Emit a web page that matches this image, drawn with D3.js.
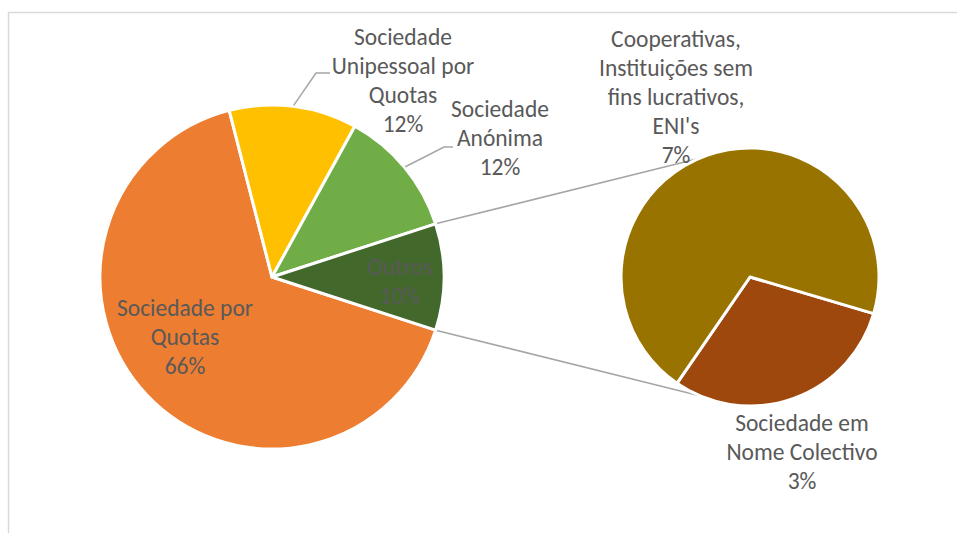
<!DOCTYPE html>
<html>
<head>
<meta charset="utf-8">
<script src="https://cdn.jsdelivr.net/npm/d3@7"></script>
<style>
  html, body { margin: 0; padding: 0; background: #ffffff; }
  svg { display: block; }
  text { font-family: Carlito, Lato, "Liberation Sans", sans-serif; fill: #595959; }
</style>
</head>
<body>
<svg id="chart" width="957" height="533"></svg>
<script>
// Main pie: company legal forms (percent of total)
const mainCategories = ["Sociedade por Quotas", "Sociedade Unipessoal por Quotas", "Sociedade Anónima", "Outros"];
const mainColors = ["#ED7D31", "#FFC000", "#70AD47", "#43682B"];
const mainValuesOwn = [66, 12, 12];

// Breakdown of "Outros" shown in the secondary pie
const subCategories = ["Sociedade em Nome Colectivo", "Cooperativas, Instituições sem fins lucrativos, ENI's"];
const subColors = ["#9E480E", "#997300"];
const subValues = [3, 7];

const mainValues = mainValuesOwn.concat([d3.sum(subValues)]);
const total = d3.sum(mainValues);

// Wrapped label text for each slice
const mainLabelLines = [
  ["Sociedade por", "Quotas"],
  ["Sociedade", "Unipessoal por", "Quotas"],
  ["Sociedade", "Anónima"],
  ["Outros"]
];
const subLabelLines = [
  ["Sociedade em", "Nome Colectivo"],
  ["Cooperativas,", "Instituições sem", "fins lucrativos,", "ENI's"]
];

const svg = d3.select("#chart");
const W = 957, H = 533;
const deg = Math.PI / 180;
const pct = d3.format(".0%");
const lineH = 29;
const fontSize = 23.5;

// Chart area frame
svg.append("rect")
  .attr("x", 8.5).attr("y", 12.5)
  .attr("width", W + 20).attr("height", H + 20)
  .attr("fill", "#ffffff")
  .attr("stroke", "#d9d9d9").attr("stroke-width", 1.5);

// Geometry
const main = { cx: 272, cy: 277, r: 172 };
const sub = { cx: 750, cy: 277, r: 129 };

const mainPie = d3.pie().sort(null).value(d => d)
  .startAngle(108 * deg).endAngle(108 * deg + 2 * Math.PI);
const mainArcs = mainPie(mainValues);

const subPie = d3.pie().sort(null).value(d => d)
  .startAngle(106.5 * deg).endAngle(106.5 * deg + 2 * Math.PI);
const subArcs = subPie(subValues);

const mainArc = d3.arc().innerRadius(0).outerRadius(main.r);
const subArc = d3.arc().innerRadius(0).outerRadius(sub.r);

// polar helper (angle clockwise from 12 o'clock)
const polar = (c, r, a) => [c.cx + r * Math.sin(a), c.cy - r * Math.cos(a)];

// Connector lines between the "Outros" slice and the secondary pie
const outros = mainArcs[3];
const connectorColor = "#a6a6a6";
const fromTop = polar(main, main.r, outros.startAngle);
const fromBot = polar(main, main.r, outros.endAngle);
const toTop = polar(sub, sub.r, (270 + 67) * deg);
const toBot = polar(sub, sub.r, (180 + 23) * deg);
svg.append("g").selectAll("line")
  .data([[fromTop, toTop], [fromBot, toBot]])
  .join("line")
  .attr("x1", d => d[0][0]).attr("y1", d => d[0][1])
  .attr("x2", d => d[1][0]).attr("y2", d => d[1][1])
  .attr("stroke", connectorColor).attr("stroke-width", 1.5);

// Main pie slices
svg.append("g")
  .attr("transform", `translate(${main.cx},${main.cy})`)
  .selectAll("path")
  .data(mainArcs)
  .join("path")
  .attr("d", mainArc)
  .attr("fill", (d, i) => mainColors[i])
  .attr("stroke", "#ffffff").attr("stroke-width", 3).attr("stroke-linejoin", "round");

// Secondary pie slices
svg.append("g")
  .attr("transform", `translate(${sub.cx},${sub.cy})`)
  .selectAll("path")
  .data(subArcs)
  .join("path")
  .attr("d", subArc)
  .attr("fill", (d, i) => subColors[i])
  .attr("stroke", "#ffffff").attr("stroke-width", 3).attr("stroke-linejoin", "round");

// Leader lines for labels placed outside the main pie
const leaders = [
  { idx: 1, elbow: [316, 73], end: [330, 73] },
  { idx: 2, elbow: [444, 147], end: [453, 147] }
];
svg.append("g").selectAll("polyline")
  .data(leaders)
  .join("polyline")
  .attr("points", d => {
    const a = mainArcs[d.idx];
    const p = polar(main, main.r + 1, (a.startAngle + a.endAngle) / 2);
    return [p, d.elbow, d.end].map(q => q.join(",")).join(" ");
  })
  .attr("fill", "none")
  .attr("stroke", connectorColor).attr("stroke-width", 1.5);

// Label anchors: centre x and first baseline
const mainLabelPos = [[185, 316], [403, 45], [500, 117], [400, 275]];
const subLabelPos = [[802, 431], [676, 47]];

function drawLabel(lines, value, pos) {
  const all = lines.concat([pct(value / total)]);
  const t = svg.append("text")
    .attr("text-anchor", "middle")
    .attr("font-size", fontSize);
  all.forEach((s, k) => {
    t.append("tspan")
      .attr("x", pos[0])
      .attr("y", pos[1] + k * lineH)
      .text(s);
  });
}

mainValues.forEach((v, i) => drawLabel(mainLabelLines[i], v, mainLabelPos[i]));
subValues.forEach((v, i) => drawLabel(subLabelLines[i], v, subLabelPos[i]));
</script>
</body>
</html>
